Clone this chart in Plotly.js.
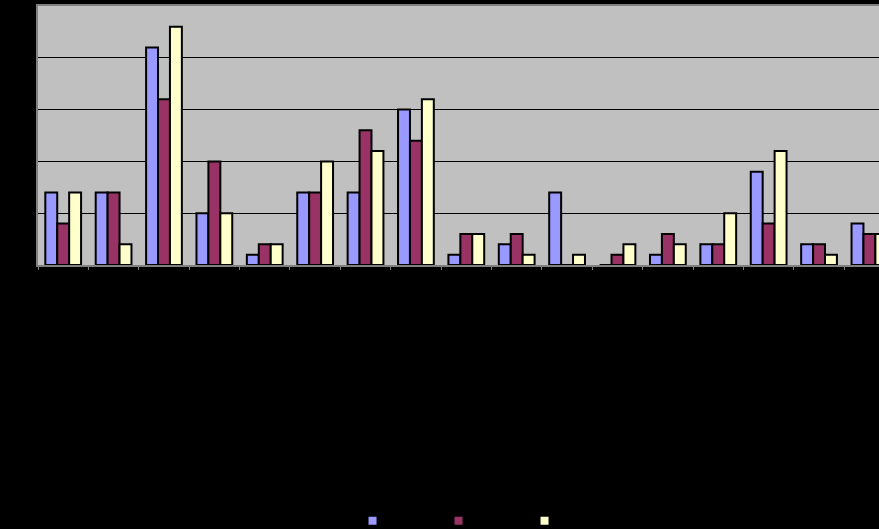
<!DOCTYPE html>
<html>
<head>
<meta charset="utf-8">
<script src="https://cdn.plot.ly/plotly-3.0.1.min.js"></script>
<style>html,body{margin:0;padding:0;background:#000;overflow:hidden;}</style>
</head>
<body>
<div id="chart" style="width:879px;height:529px;"></div>
<script>
const categories = ["1","2","3","4","5","6","7","8","9","10","11","12","13","14","15","16","17"];
const seriesNames = ["Series 1","Series 2","Series 3"];
const series1 = [7, 7, 21, 5, 1, 7, 7, 15, 1, 2, 7, 0, 1, 2, 9, 2, 4];
const series2 = [4, 7, 16, 10, 2, 7, 13, 12, 3, 3, 0, 1, 3, 2, 4, 2, 3];
const series3 = [7, 2, 23, 5, 2, 10, 11, 16, 3, 1, 1, 2, 2, 5, 11, 1, 3];
const colors = ["#9999FF", "#993366", "#FFFFCC"];

const allSeries = [series1, series2, series3];
const traces = allSeries.map((vals, i) => ({
  type: "bar",
  x: categories,
  y: vals,
  name: seriesNames[i],
  showlegend: false,
  marker: {color: colors[i], line: {color: "#000", width: 2}},
  hoverinfo: "x+y+name"
}));
allSeries.forEach((vals, i) => {
  traces.push({
    type: "scatter", mode: "markers",
    x: [null], y: [null],
    name: seriesNames[i],
    showlegend: true,
    marker: {symbol: "square", size: 8, color: colors[i], line: {width: 0}}
  });
});

const layout = {
  width: 879, height: 529,
  paper_bgcolor: "#000000",
  plot_bgcolor: "#C0C0C0",
  margin: {l: 38, r: 0, t: 6, b: 264, pad: 0, autoexpand: false},
  barmode: "group",
  bargap: 0.29,
  bargroupgap: 0,
  font: {family: "Liberation Sans, Arial, sans-serif", size: 11, color: "#000"},
  xaxis: {
    type: "category",
    range: [-0.5, 16.19],
    showline: true, linecolor: "#808080", linewidth: 2, mirror: true,
    ticks: "outside", tickson: "boundaries", ticklen: 3, tickcolor: "#808080",
    showgrid: false, zeroline: false,
    tickfont: {color: "#000"}
  },
  yaxis: {
    range: [0, 25],
    dtick: 5,
    showline: true, linecolor: "#808080", linewidth: 2,
    showgrid: true, gridcolor: "#000000", gridwidth: 1,
    zeroline: false,
    ticks: "", tickfont: {color: "#000"}
  },
  legend: {
    orientation: "h",
    x: 0.374, xanchor: "left",
    y: -0.931, yanchor: "top", yref: "paper",
    entrywidth: 41, entrywidthmode: "pixels",
    bgcolor: "rgba(0,0,0,0)",
    font: {color: "#000", size: 11}
  },
  showlegend: true
};

Plotly.newPlot("chart", traces, layout, {displayModeBar: false, staticPlot: true});
</script>
</body>
</html>
